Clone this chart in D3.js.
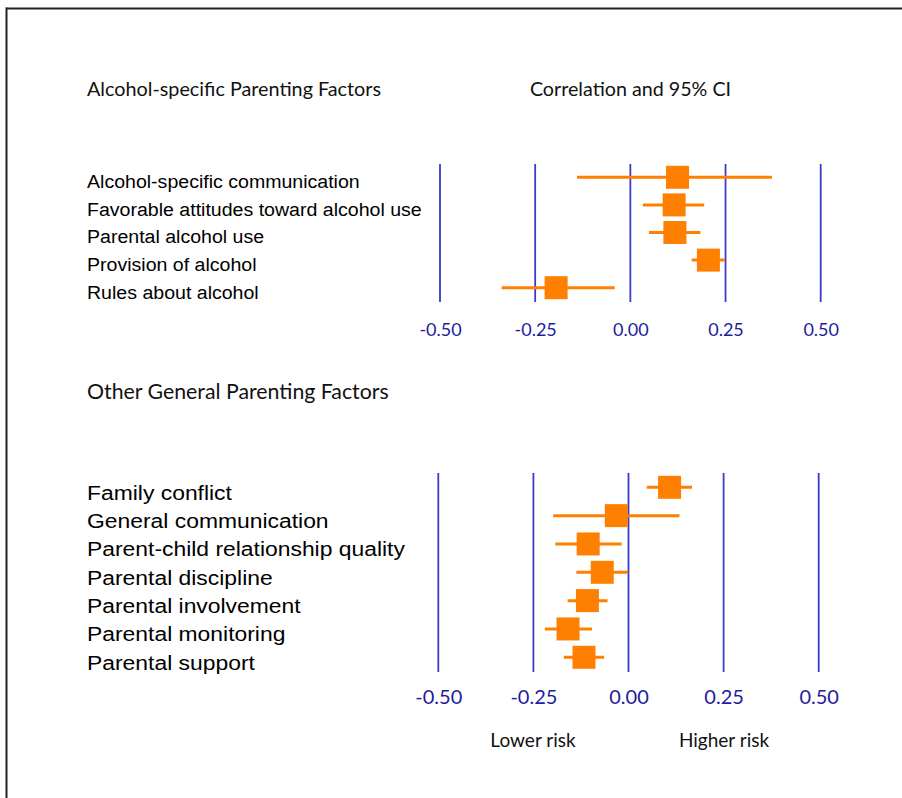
<!DOCTYPE html>
<html><head><meta charset="utf-8">
<script src="https://cdn.jsdelivr.net/npm/d3@7"></script>
<style>body{margin:0;background:#fff}svg{display:block}</style>
</head><body>
<script>
const alcoholFactors = ["Alcohol-specific communication","Favorable attitudes toward alcohol use","Parental alcohol use","Provision of alcohol","Rules about alcohol"];
const alcoholEst = [0.124, 0.115, 0.117, 0.205, -0.195];
const alcoholLow = [-0.140, 0.033, 0.049, 0.161, -0.338];
const alcoholHigh = [0.372, 0.194, 0.184, 0.248, -0.041];

const generalFactors = ["Family conflict","General communication","Parent-child relationship quality","Parental discipline","Parental involvement","Parental monitoring","Parental support"];
const generalEst = [0.108, -0.032, -0.106, -0.069, -0.108, -0.159, -0.117];
const generalLow = [0.048, -0.198, -0.192, -0.137, -0.160, -0.220, -0.170];
const generalHigh = [0.167, 0.134, -0.018, -0.001, -0.055, -0.096, -0.064];

const tickValues = [-0.50, -0.25, 0.00, 0.25, 0.50];

const W = 902, H = 798;
const svg = d3.select("body").append("svg").attr("width", W).attr("height", H);

// frame
svg.append("line").attr("x1",6).attr("x2",W).attr("y1",8.5).attr("y2",8.5).attr("stroke","#222").attr("stroke-width",2);
svg.append("line").attr("x1",6.5).attr("x2",6.5).attr("y1",7.5).attr("y2",H).attr("stroke","#222").attr("stroke-width",2);

const headFont = "Lato, 'Open Sans', sans-serif";
const labelFont = "'Liberation Sans', Arial, sans-serif";
const fmt = d => (d < 0 ? "-" : "") + Math.abs(d).toFixed(2);

svg.append("text").attr("x",87).attr("y",96).attr("font-family",headFont).attr("font-size",19.8).attr("fill","#111").text("Alcohol-specific Parenting Factors");
svg.append("text").attr("x",630.5).attr("y",96).attr("text-anchor","middle").attr("font-family",headFont).attr("font-size",19.7).attr("fill","#111").text("Correlation and 95% CI");
svg.append("text").attr("x",87).attr("y",399).attr("font-family",headFont).attr("font-size",21.3).attr("fill","#111").text("Other General Parenting Factors");
svg.append("text").attr("x",533).attr("y",747).attr("text-anchor","middle").attr("font-family",headFont).attr("font-size",19).attr("fill","#111").text("Lower risk");
svg.append("text").attr("x",724).attr("y",747).attr("text-anchor","middle").attr("font-family",headFont).attr("font-size",19).attr("fill","#111").text("Higher risk");

function panel(cfg){
  const x = d3.scaleLinear().domain([-0.5,0.5]).range(cfg.xRange);
  const y = d3.scalePoint().domain(cfg.names).range(cfg.yRange);
  const g = svg.append("g");
  // grid lines
  g.selectAll("line.grid").data(tickValues).join("line").attr("class","grid")
    .attr("x1",d=>x(d)).attr("x2",d=>x(d)).attr("y1",cfg.gridTop).attr("y2",cfg.gridBottom)
    .attr("stroke","#3b3bc8").attr("stroke-width",1.8);
  // axis labels
  const ax = g.append("g").attr("transform",`translate(0,${cfg.axisY})`)
    .call(d3.axisBottom(x).tickValues(tickValues).tickFormat(fmt).tickSize(0).tickPadding(0));
  ax.select(".domain").remove();
  ax.selectAll("text").attr("font-family",headFont).attr("font-size",cfg.tickSize).attr("fill","#1c1ca0").attr("dy","0.35em");
  // labels (slightly widened like the original)
  const lg = g.append("g").attr("transform",`translate(87,0) scale(${cfg.labScaleX},1)`);
  lg.selectAll("text.lab").data(cfg.names).join("text").attr("class","lab")
    .attr("x",0).attr("y",d=>y(d)+cfg.labOff).attr("font-family",labelFont).attr("font-size",cfg.labSize).attr("fill","#000").text(d=>d);
  // CI lines
  g.selectAll("line.ci").data(cfg.names).join("line").attr("class","ci")
    .attr("x1",(d,i)=>x(cfg.low[i])).attr("x2",(d,i)=>x(cfg.high[i]))
    .attr("y1",d=>y(d)).attr("y2",d=>y(d)).attr("stroke","#ff8000").attr("stroke-width",3);
  // squares
  const s = 23;
  g.selectAll("rect.pt").data(cfg.names).join("rect").attr("class","pt")
    .attr("x",(d,i)=>x(cfg.est[i])-s/2).attr("y",d=>y(d)-s/2).attr("width",s).attr("height",s).attr("fill","#ff8000");
}

panel({names:alcoholFactors, est:alcoholEst, low:alcoholLow, high:alcoholHigh,
  xRange:[440,820.7], yRange:[177.3,287.7], gridTop:164, gridBottom:302, axisY:330, labOff:10.9, labSize:19, labScaleX:1.03, tickSize:18});
panel({names:generalFactors, est:generalEst, low:generalLow, high:generalHigh,
  xRange:[438.3,818.7], yRange:[487.3,657.3], gridTop:473, gridBottom:672, axisY:697, labOff:12.3, labSize:21, labScaleX:1.09, tickSize:20});
</script>
</body></html>
